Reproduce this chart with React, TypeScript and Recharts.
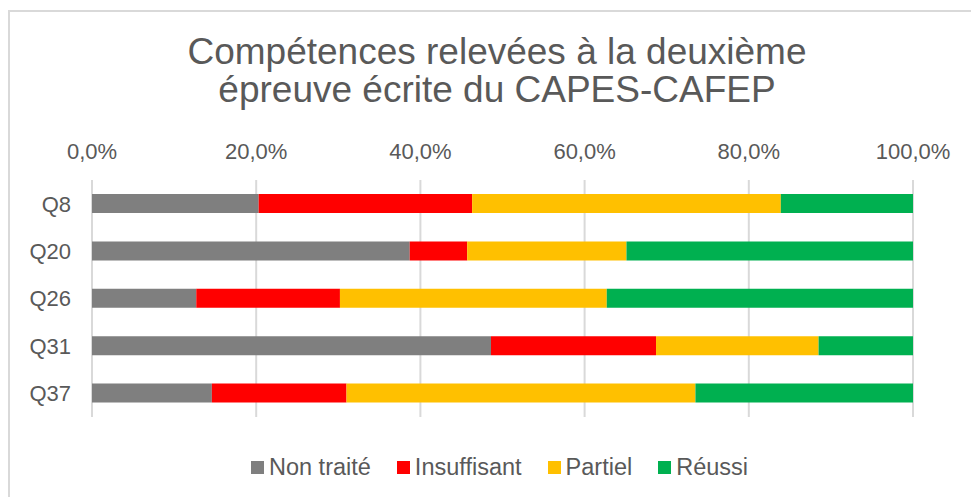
import { Bar, BarChart, CartesianGrid, XAxis, YAxis } from "recharts";

const questions = ["Q8", "Q20", "Q26", "Q31", "Q37"];
const nonTraite = [20.3, 38.7, 12.7, 48.6, 14.6];
const insuffisant = [26.0, 7.0, 17.5, 20.1, 16.4];
const partiel = [37.6, 19.4, 32.5, 19.8, 42.5];
const reussi = [16.1, 34.9, 37.3, 11.5, 26.5];
const xTicks = [0, 20, 40, 60, 80, 100];

const series = [
  { key: "nonTraite", name: "Non traité", color: "#7F7F7F" },
  { key: "insuffisant", name: "Insuffisant", color: "#FF0000" },
  { key: "partiel", name: "Partiel", color: "#FFC000" },
  { key: "reussi", name: "Réussi", color: "#00B050" },
];

const data = questions.map((q, i) => ({
  q,
  nonTraite: nonTraite[i],
  insuffisant: insuffisant[i],
  partiel: partiel[i],
  reussi: reussi[i],
}));

const font = "'Liberation Sans', Arial, sans-serif";
const textColor = "#595959";

const formatPct = (v: number) => v.toFixed(1).replace(".", ",") + "%";

const App = () => {
  return (
    <div
      style={{
        position: "absolute",
        left: 0,
        top: 0,
        width: 971,
        height: 497,
        overflow: "hidden",
        background: "#fff",
        fontFamily: font,
      }}
    >
      <div
        style={{
          position: "absolute",
          left: 8,
          top: 10,
          width: 1000,
          height: 600,
          borderLeft: "2px solid #d9d9d9",
          borderTop: "2px solid #d9d9d9",
        }}
      />
      <div
        style={{
          position: "absolute",
          left: 0,
          top: 33,
          width: 994,
          textAlign: "center",
          fontSize: 37,
          lineHeight: "38px",
          color: textColor,
        }}
      >
        Compétences relevées à la deuxième
        <br />
        épreuve écrite du CAPES-CAFEP
      </div>
      <div style={{ position: "absolute", left: 0, top: 0 }}>
        <BarChart
          width={971}
          height={497}
          data={data}
          layout="vertical"
          margin={{ top: 150, right: 58, left: 0, bottom: 80 }}
          barSize={19}
        >
          <CartesianGrid horizontal={false} stroke="#d9d9d9" strokeWidth={2} />
          <XAxis
            type="number"
            orientation="top"
            domain={[0, 100]}
            ticks={xTicks}
            height={30}
            tickFormatter={formatPct}
            axisLine={false}
            tickLine={false}
            tickSize={0}
            tickMargin={21}
            tick={{ fill: textColor, fontSize: 22, fontFamily: font }}
          />
          <YAxis
            type="category"
            dataKey="q"
            width={92}
            axisLine={false}
            tickLine={false}
            tickSize={0}
            tickMargin={21}
            tick={{ fill: textColor, fontSize: 22, fontFamily: font }}
          />
          {series.map((s) => (
            <Bar
              key={s.key}
              dataKey={s.key}
              name={s.name}
              stackId="a"
              fill={s.color}
              isAnimationActive={false}
            />
          ))}
        </BarChart>
      </div>
      <div
        style={{
          position: "absolute",
          left: 0,
          top: 454,
          width: 999,
          display: "flex",
          justifyContent: "center",
          gap: 26,
          fontSize: 23.5,
          lineHeight: "27px",
          color: textColor,
        }}
      >
        {series.map((s) => (
          <div key={s.key} style={{ display: "flex", alignItems: "center" }}>
            <span
              style={{
                display: "inline-block",
                width: 13,
                height: 13,
                background: s.color,
                marginRight: 5,
              }}
            />
            <span>{s.name}</span>
          </div>
        ))}
      </div>
    </div>
  );
};

export default App;
